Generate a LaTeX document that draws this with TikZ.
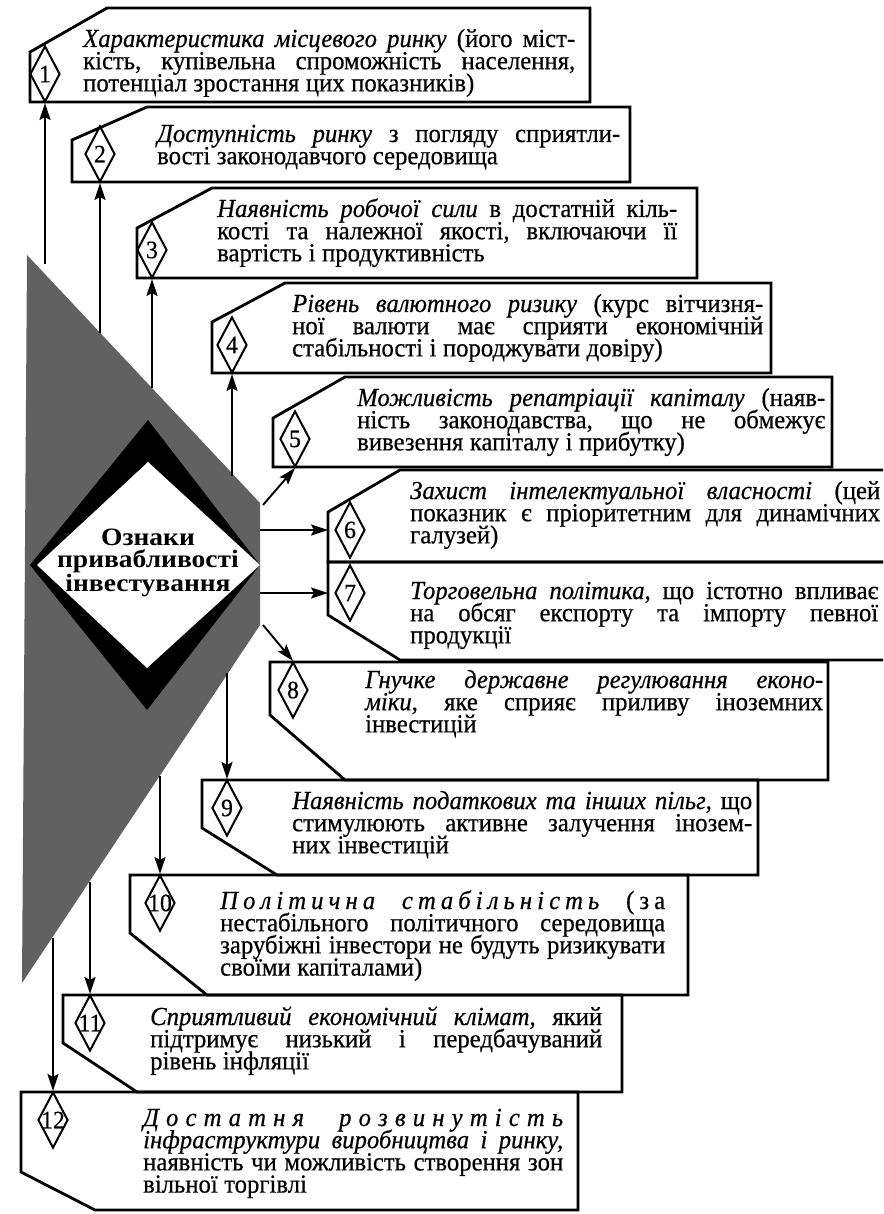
\documentclass[tikz,border=0pt]{standalone}
\usepackage{fontspec}
\setmainfont{Liberation Serif}[FakeStretch=0.95, FakeBold=0.5]
\newfontfamily\titlefont{Liberation Serif}[FakeStretch=1.1]
\usetikzlibrary{arrows.meta,shapes.geometric}

% one text line stretched to the block width, and a last line at natural width
\newdimen\linew
\newcommand\JL[1]{\hbox to\linew{#1}}
\newcommand\LL[1]{\hbox{#1}}
% letter and word gaps for spaced-out headings
\newcommand\lsp{\hskip 0pt plus 1fil\relax}
\newcommand\wsp{\hskip 0.25em plus 4fil\relax}
\newcommand\textblock[2]{\vtop{\linew=#1\relax\frenchspacing
  \spaceskip=0.25em plus 1fil minus 0.12em\relax
  \baselineskip=22.2pt\relax\lineskiplimit=-30pt\relax #2}}

\begin{document}
\begin{tikzpicture}[x=1pt,y=-1pt,
  box/.style={line width=2.8pt, line join=miter},
  num/.style={shape=diamond, draw, line width=2pt, minimum width=30pt,
    minimum height=56pt, inner sep=0pt, font=\fontsize{25}{25}\selectfont},
  arr/.style={line width=1.9pt, -{Stealth[length=17pt,width=11pt,inset=3pt]}},
  txt/.style={anchor=base west, inner sep=0pt, font=\fontsize{26}{22}\selectfont},
  title/.style={font=\titlefont\bfseries\fontsize{25}{22.5}\selectfont, align=center, inner sep=0pt}]

\useasboundingbox (0,0) rectangle (883,1214);
\clip (0,0) rectangle (883,1214);
\fill[white] (0,0) rectangle (883,1214);

% shaded wedge with the central emblem
\fill[black!62] (27,255) -- (260,503) -- (260,625) -- (22,983) -- cycle;
\fill[black] (148,420) -- (260,565) -- (147,710) -- (30,565) -- cycle;
\fill[white] (148,462) -- (260,565) -- (147,668) -- (37,565) -- cycle;
\node[title] (title) at (148,563) {Ознаки\\привабливості\\інвестування};

% boxes
\draw[box] (30,102) -- (30,52) -- (107,8) -- (590,8) -- (590,102) -- cycle;
\draw[box] (72,182) -- (72,140) -- (147,107) -- (630,107) -- (630,182) -- cycle;
\draw[box] (137,278) -- (137,228) -- (212,188) -- (697,188) -- (697,278) -- cycle;
\draw[box] (212,373) -- (212,322) -- (285,283) -- (771,283) -- (771,373) -- cycle;
\draw[box] (273,467) -- (273,418) -- (345,377) -- (832,377) -- (832,467) -- cycle;
\draw[box] (328,562) -- (328,512) -- (400,470) -- (895,470) -- (895,562) -- cycle;
\draw[box] (328,562) -- (895,562) -- (895,660) -- (400,660) -- (328,615) -- cycle;
\draw[box] (270,662) -- (828,662) -- (828,780) -- (345,780) -- (270,715) -- cycle;
\draw[box] (202,780) -- (758,780) -- (758,875) -- (277,875) -- (202,828) -- cycle;
\draw[box] (130,875) -- (688,875) -- (688,995) -- (207,995) -- (130,933) -- cycle;
\draw[box] (63,995) -- (622,995) -- (622,1092) -- (137,1092) -- (63,1043) -- cycle;
\draw[box] (21,1092) -- (578,1092) -- (578,1210) -- (95,1210) -- (21,1172) -- cycle;

% numbered diamonds
\node[num] (d1) at (45,74) {1};
\node[num] (d2) at (100,154) {2};
\node[num] (d3) at (152,250) {3};
\node[num] (d4) at (232,345) {4};
\node[num] (d5) at (295,439) {5};
\node[num] (d6) at (350,530) {6};
\node[num] (d7) at (350,593) {7};
\node[num] (d8) at (293,690) {8};
\node[num] (d9) at (227,808) {9};
\node[num] (d10) at (160,903) {\makebox[0pt]{10}};
\node[num] (d11) at (90,1023) {\makebox[0pt]{11}};
\node[num] (d12) at (53,1120) {\makebox[0pt]{12}};

% texts
\node[txt] (t1) at (83,47) {\textblock{492pt}{%
\JL{\textit{Характеристика місцевого ринку} (його міст-}
\JL{кість, купівельна спроможність населення,}
\LL{потенціал зростання цих показників)}}};
\node[txt] (t2) at (157,142) {\textblock{463pt}{%
\JL{\textit{Доступність ринку} з погляду сприятли-}
\LL{вості законодавчого середовища}}};
\node[txt] (t3) at (217,217) {\textblock{460pt}{%
\JL{\textit{Наявність робочої сили} в достатній кіль-}
\JL{кості та належної якості, включаючи її}
\LL{вартість і продуктивність}}};
\node[txt] (t4) at (292,312) {\textblock{471pt}{%
\JL{\textit{Рівень валютного ризику} (курс вітчизня-}
\JL{ної валюти має сприяти економічній}
\LL{стабільності і породжувати довіру)}}};
\node[txt] (t5) at (357,406) {\textblock{468pt}{%
\JL{\textit{Можливість репатріації капіталу} (наяв-}
\JL{ність законодавства, що не обмежує}
\LL{вивезення капіталу і прибутку)}}};
\node[txt] (t6) at (410,499) {\textblock{470pt}{%
\JL{\textit{Захист інтелектуальної власності} (цей}
\JL{показник є пріоритетним для динамічних}
\LL{галузей)}}};
\node[txt] (t7) at (410,599) {\textblock{468pt}{%
\JL{\textit{Торговельна політика}, що істотно впливає}
\JL{на обсяг експорту та імпорту певної}
\LL{продукції}}};
\node[txt] (t8) at (365,688) {\textblock{458pt}{%
\JL{\textit{Гнучке державне регулювання еконо-}}
\JL{\textit{міки}, яке сприяє приливу іноземних}
\LL{інвестицій}}};
\node[txt] (t9) at (292,809) {\textblock{460pt}{%
\JL{\textit{Наявність податкових та інших пільг}, що}
\JL{стимулюють активне залучення інозем-}
\LL{них інвестицій}}};
\node[txt] (t10) at (220,909) {\textblock{445pt}{%
\JL{\textit{П\lsp о\lsp л\lsp і\lsp т\lsp и\lsp ч\lsp н\lsp а\wsp с\lsp т\lsp а\lsp б\lsp і\lsp л\lsp ь\lsp н\lsp і\lsp с\lsp т\lsp ь}\wsp (\lsp з\lsp а}
\JL{нестабільного політичного середовища}
\JL{зарубіжні інвестори не будуть ризикувати}
\LL{своїми капіталами)}}};
\node[txt] (t11) at (150,1025) {\textblock{452pt}{%
\JL{\textit{Сприятливий економічний клімат}, який}
\JL{підтримує низький і передбачуваний}
\LL{рівень інфляції}}};
\node[txt] (t12) at (143,1126) {\textblock{420pt}{%
\JL{\textit{Д\lsp о\lsp с\lsp т\lsp а\lsp т\lsp н\lsp я\wsp р\lsp о\lsp з\lsp в\lsp и\lsp н\lsp у\lsp т\lsp і\lsp с\lsp т\lsp ь}}
\JL{\textit{інфраструктури виробництва і ринку,}}
\JL{наявність чи можливість створення зон}
\LL{вільної торгівлі}}};

% arrow origins on the edge of the wedge
\coordinate (s1) at (45,264);
\coordinate (s2) at (100,333);
\coordinate (s3) at (152,388);
\coordinate (s4) at (232,476);
\coordinate (s5) at (263,505);
\coordinate (s6) at (260,530);
\coordinate (s7) at (260,593);
\coordinate (s8) at (263,625);
\coordinate (s9) at (227,673);
\coordinate (s10) at (160,776);
\coordinate (s11) at (90,882);
\coordinate (s12) at (53,938);

\draw[arr] (s1) -- (d1.south);
\draw[arr] (s2) -- (d2.south);
\draw[arr] (s3) -- (d3.south);
\draw[arr] (s4) -- (d4.south);
\draw[arr] (s5) -- (d5.south);
\draw[arr, shorten >=6pt] (s6) -- (d6.west);
\draw[arr, shorten >=6pt] (s7) -- (d7.west);
\draw[arr] (s8) -- (d8.north);
\draw[arr] (s9) -- (d9.north);
\draw[arr] (s10) -- (d10.north);
\draw[arr] (s11) -- (d11.north);
\draw[arr] (s12) -- (d12.north);
\end{tikzpicture}
\end{document}
